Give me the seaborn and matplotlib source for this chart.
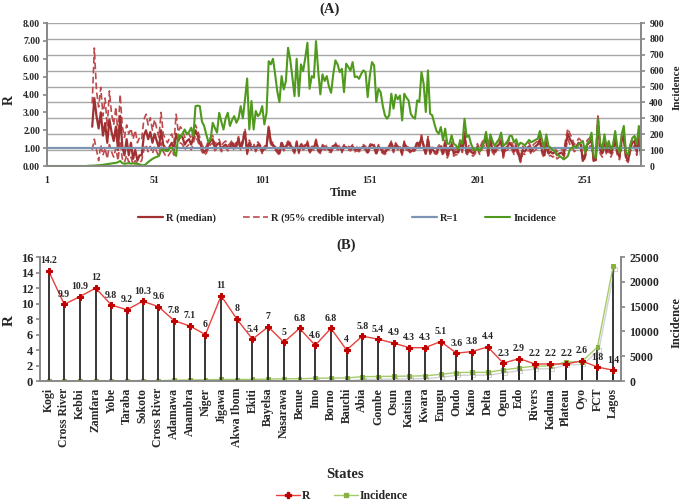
import numpy as np
import matplotlib
matplotlib.use("Agg")
import matplotlib.pyplot as plt
import matplotlib.patheffects as pe
from matplotlib.lines import Line2D
import seaborn as sns

# (A) daily incidence, day 1 .. 277
incidence = [
    0, 0, 0, 0, 0, 0, 0, 0, 0, 0,
    0, 0, 0, 0, 0, 0, 0, 0, 0, 1,
    2, 2, 3, 4, 5, 6, 8, 10, 12, 14,
    16, 18, 20, 24, 32, 18, 14, 16, 18, 15,
    17, 14, 16, 10, 6, 4, 12, 25, 35, 45,
    52, 58, 63, 100, 105, 96, 94, 112, 115, 90,
    63, 199, 178, 205, 230, 199, 215, 241, 189, 377,
    380, 377, 280, 252, 199, 150, 168, 272, 240, 210,
    335, 280, 230, 300, 335, 252, 290, 314, 272, 300,
    377, 300, 420, 551, 230, 409, 230, 346, 314, 330,
    377, 262, 335, 660, 640, 675, 577, 470, 402, 566,
    482, 535, 744, 671, 560, 440, 675, 440, 640, 597,
    680, 776, 486, 566, 556, 786, 600, 451, 577, 535,
    566, 500, 461, 577, 665, 640, 591, 612, 465, 644,
    623, 600, 654, 560, 564, 549, 580, 602, 591, 434,
    570, 654, 633, 403, 486, 465, 380, 319, 298, 319,
    455, 361, 449, 420, 444, 287, 455, 430, 413, 329,
    308, 298, 413, 403, 591, 518, 340, 602, 329, 319,
    266, 220, 203, 245, 161, 235, 140, 140, 193, 140,
    130, 109, 161, 140, 298, 182, 193, 140, 109, 98,
    115, 94, 115, 150, 215, 115, 199, 157, 126, 150,
    168, 210, 126, 140, 157, 189, 189, 147, 168, 126,
    147, 140, 130, 147, 164, 150, 157, 165, 172, 220,
    168, 115, 199, 126, 115, 100, 94, 73, 63, 55,
    42, 50, 63, 105, 115, 126, 115, 136, 147, 157,
    84, 140, 157, 210, 63, 52, 293, 147, 105, 199,
    115, 157, 105, 136, 220, 120, 84, 199, 252, 84,
    73, 130, 178, 189, 136, 252, 100,
]

# R estimates start on day 22
r_first_day = 22
r_median = [
    2.2, 3.8, 2.8, 2.1, 3.0, 1.7, 2.4, 1.3, 2.6, 1.9,
    1.4, 2.2, 0.9, 2.8, 1.1, 0.6, 1.5, 0.6, 1.3, 0.4,
    0.9, 0.3, 0.6, 0.6, 1.7, 2.0, 1.5, 1.9, 1.3, 1.8,
    1.4, 1.0, 2.0, 1.2, 1.0, 0.85, 1.1, 1.3, 0.9, 1.8,
    1.4, 1.7, 1.6, 1.2, 1.4, 1.5, 1.2, 1.6, 2.0, 1.7,
    1.3, 1.0, 0.75, 0.9, 1.2, 1.4, 1.5, 1.0, 1.2, 1.3,
    0.95, 1.1, 1.2, 1.0, 1.1, 1.3, 1.0, 1.2, 1.5, 1.0,
    1.4, 1.9, 0.75, 1.3, 1.0, 1.1, 0.9, 1.2, 1.1, 0.8,
    1.0, 1.1, 2.15, 1.3, 1.2, 1.0, 0.85, 0.7, 1.3, 0.95,
    1.1, 1.3, 1.2, 1.0, 0.8, 1.3, 0.8, 1.2, 1.0, 1.1,
    1.3, 0.8, 1.0, 1.0, 1.4, 0.9, 0.8, 1.1, 1.0, 1.05,
    0.9, 0.85, 1.1, 1.2, 1.0, 1.05, 0.85, 1.1, 1.05, 1.0,
    0.95, 1.1, 0.9, 0.95, 0.9, 1.0, 1.1, 1.0, 0.75, 1.1,
    1.2, 1.1, 0.7, 1.1, 0.95, 0.8, 0.75, 0.9, 1.05, 1.3,
    0.85, 1.2, 1.0, 1.05, 0.7, 1.3, 1.0, 0.95, 0.8, 0.9,
    0.95, 1.3, 1.1, 1.6, 1.1, 0.7, 1.5, 0.75, 0.95, 0.8,
    0.75, 1.0, 1.1, 0.7, 1.3, 0.6, 0.9, 1.2, 0.7, 0.8,
    0.75, 1.3, 0.9, 1.8, 0.7, 1.0, 0.8, 0.7, 0.85, 1.1,
    0.8, 1.1, 1.3, 1.6, 0.6, 1.5, 0.9, 0.75, 1.1, 1.2,
    1.4, 0.6, 1.0, 1.1, 1.3, 1.1, 0.8, 1.1, 0.7, 0.3,
    0.9, 0.8, 1.0, 1.1, 0.8, 1.0, 1.1, 1.2, 1.5, 0.9,
    0.6, 1.3, 0.7, 0.8, 0.7, 0.8, 0.6, 0.7, 0.75, 0.6,
    1.2, 1.8, 1.5, 1.3, 1.0, 1.1, 1.3, 1.2, 0.3, 0.6,
    1.2, 1.3, 1.5, 0.3, 0.35, 2.6, 0.9, 0.7, 1.4, 0.8,
    1.1, 0.7, 1.0, 1.5, 0.8, 0.5, 1.4, 1.7, 0.5, 0.3,
    1.0, 1.3, 1.4, 0.8, 1.7, 0.6,
]
r_lower = [
    0.9, 1.5, 0.9, 0.3, 1.2, 0.6, 1.0, 0.4, 1.2, 0.8,
    0.5, 1.0, 0.3, 1.4, 0.4, 0.2, 0.6, 0.2, 0.5, 0.1,
    0.3, 0.1, 0.2, 0.3, 0.9, 1.2, 0.8, 1.1, 0.7, 1.1,
    0.8, 0.5, 1.3, 0.8, 0.6, 0.5, 0.7, 0.9, 0.6, 1.1,
    1.0, 1.3, 1.2, 0.9, 1.1, 1.2, 0.9, 1.3, 1.7, 1.4,
    1.1, 0.8, 0.6, 0.7, 1.0, 1.2, 1.3, 0.85, 1.0, 1.1,
    0.8, 0.95, 1.05, 0.85, 0.95, 1.15, 0.85, 1.05, 1.35, 0.85,
    1.25, 1.7, 0.65, 1.15, 0.9, 0.95, 0.8, 1.1, 1.0, 0.7,
    0.9, 1.0, 1.95, 1.2, 1.1, 0.9, 0.75, 0.6, 1.2, 0.85,
    1.0, 1.2, 1.1, 0.9, 0.7, 1.2, 0.7, 1.1, 0.9, 1.0,
    1.2, 0.7, 0.9, 0.9, 1.3, 0.8, 0.7, 1.0, 0.9, 0.95,
    0.8, 0.75, 1.0, 1.1, 0.9, 0.95, 0.75, 1.0, 0.95, 0.9,
    0.85, 1.0, 0.8, 0.85, 0.8, 0.9, 1.0, 0.9, 0.65, 1.0,
    1.1, 1.0, 0.6, 1.0, 0.85, 0.7, 0.65, 0.8, 0.95, 1.2,
    0.75, 1.1, 0.9, 0.95, 0.6, 1.2, 0.9, 0.85, 0.7, 0.8,
    0.85, 1.2, 1.0, 1.45, 1.0, 0.6, 1.35, 0.65, 0.85, 0.7,
    0.65, 0.85, 0.95, 0.55, 1.15, 0.45, 0.75, 1.05, 0.55, 0.65,
    0.6, 1.15, 0.75, 1.6, 0.55, 0.85, 0.65, 0.55, 0.7, 0.95,
    0.65, 0.9, 1.1, 1.4, 0.45, 1.3, 0.75, 0.6, 0.9, 1.0,
    1.2, 0.45, 0.85, 0.9, 1.1, 0.9, 0.65, 0.9, 0.55, 0.2,
    0.7, 0.65, 0.8, 0.9, 0.65, 0.8, 0.9, 1.0, 1.3, 0.7,
    0.45, 1.1, 0.55, 0.6, 0.5, 0.6, 0.4, 0.5, 0.55, 0.4,
    0.9, 1.5, 1.2, 1.05, 0.8, 0.9, 1.05, 0.95, 0.2, 0.45,
    0.95, 1.05, 1.25, 0.2, 0.25, 2.2, 0.7, 0.5, 1.15, 0.6,
    0.9, 0.5, 0.8, 1.25, 0.6, 0.35, 1.15, 1.4, 0.35, 0.2,
    0.8, 1.05, 1.15, 0.6, 1.4, 0.45,
]
r_upper = [
    3.5, 6.6, 4.2, 3.3, 4.4, 2.8, 3.8, 2.2, 4.2, 2.9,
    2.3, 3.3, 1.7, 4.0, 2.2, 1.6, 2.3, 1.8, 2.1, 1.5,
    2.0, 1.3, 1.6, 1.5, 2.6, 2.9, 2.3, 2.7, 2.0, 2.6,
    2.1, 1.6, 3.0, 1.8, 1.5, 1.3, 1.6, 1.8, 1.3, 2.9,
    1.9, 2.2, 2.0, 1.6, 1.8, 1.8, 1.5, 1.9, 2.3, 2.0,
    1.6, 1.2, 0.95, 1.1, 1.4, 1.6, 1.7, 1.2, 1.4, 1.5,
    1.1, 1.3, 1.4, 1.15, 1.25, 1.45, 1.15, 1.35, 1.65, 1.15,
    1.55, 2.1, 0.9, 1.45, 1.15, 1.25, 1.0, 1.35, 1.2, 0.9,
    1.1, 1.2, 2.3, 1.4, 1.3, 1.1, 0.95, 0.8, 1.4, 1.05,
    1.2, 1.4, 1.3, 1.1, 0.9, 1.4, 0.9, 1.3, 1.1, 1.2,
    1.4, 0.9, 1.1, 1.1, 1.5, 1.0, 0.9, 1.2, 1.1, 1.15,
    1.0, 0.95, 1.2, 1.3, 1.1, 1.15, 0.95, 1.2, 1.15, 1.1,
    1.05, 1.2, 1.0, 1.05, 1.0, 1.1, 1.2, 1.1, 0.85, 1.2,
    1.3, 1.2, 0.8, 1.2, 1.05, 0.9, 0.85, 1.0, 1.15, 1.4,
    0.95, 1.3, 1.1, 1.15, 0.8, 1.4, 1.1, 1.05, 0.9, 1.0,
    1.05, 1.4, 1.2, 1.75, 1.2, 0.8, 1.65, 0.85, 1.05, 0.9,
    0.9, 1.15, 1.25, 0.85, 1.45, 0.75, 1.05, 1.35, 0.85, 0.95,
    0.9, 1.45, 1.05, 2.0, 0.85, 1.15, 0.95, 0.85, 1.0, 1.25,
    0.95, 1.3, 1.5, 1.8, 0.8, 1.7, 1.05, 0.9, 1.3, 1.4,
    1.6, 0.8, 1.2, 1.3, 1.5, 1.3, 0.95, 1.3, 0.85, 0.45,
    1.1, 1.0, 1.2, 1.3, 1.0, 1.2, 1.3, 1.4, 1.7, 1.1,
    0.8, 1.5, 0.9, 1.0, 0.9, 1.0, 0.8, 0.9, 0.95, 0.8,
    1.5, 2.1, 1.8, 1.55, 1.2, 1.3, 1.55, 1.45, 0.45, 0.8,
    1.45, 1.55, 1.75, 0.45, 0.5, 2.9, 1.1, 0.9, 1.65, 1.0,
    1.3, 0.9, 1.2, 1.75, 1.0, 0.7, 1.65, 1.95, 0.7, 0.45,
    1.2, 1.55, 1.65, 1.0, 1.95, 0.8,
]

# (B) per-state values
states = ["Kogi", "Cross River", "Kebbi", "Zamfara", "Yobe", "Taraba", "Sokoto",
          "Cross River", "Adamawa", "Anambra", "Niger", "Jigawa", "Akwa Ibom",
          "Ekiti", "Bayelsa", "Nasarawa", "Benue", "Imo", "Borno", "Bauchi",
          "Abia", "Gombe", "Osun", "Katsina", "Kwara", "Enugu", "Ondo", "Kano",
          "Delta", "Ogun", "Edo", "Rivers", "Kaduna", "Plateau", "Oyo", "FCT",
          "Lagos"]
state_r = [14.2, 9.9, 10.9, 12.0, 9.8, 9.2, 10.3, 9.6, 7.8, 7.1, 6.0, 11.0, 8.0,
           5.4, 7.0, 5.0, 6.8, 4.6, 6.8, 4.0, 5.8, 5.4, 4.9, 4.3, 4.3, 5.1, 3.6,
           3.8, 4.4, 2.3, 2.9, 2.2, 2.2, 2.2, 2.6, 1.8, 1.4]
state_incidence = [5, 15, 60, 75, 65, 50, 115, 30, 180, 200, 250, 320, 310, 330,
                   390, 450, 460, 550, 600, 620, 870, 920, 950, 1000, 1050, 1350,
                   1700, 1750, 1760, 2250, 2650, 3000, 3050, 3850, 3900, 6850,
                   23200]

sns.set_theme(style="white")
plt.rcParams["font.family"] = ["Liberation Serif", "DejaVu Serif"]
plt.rcParams["font.weight"] = "bold"

med_col = "#a03032"
ci_col = "#bd4b4e"
one_col = "#7d95b3"
inc_col = "#4f9a1c"
grid_col = "#a8a8a8"
axis_col = "#8a8a8a"

fig = plt.figure(figsize=(6.85, 5.04), dpi=100)

# ---------------- panel A ----------------
axA = fig.add_axes([0.0686, 0.6706, 0.8672, 0.2837])
axA2 = axA.twinx()

for v in range(0, 901, 100):
    axA.axhline(v * 8 / 900, color=grid_col, lw=1.0, zorder=0)

r_days_lo = np.arange(r_first_day, r_first_day + len(r_lower))
r_days_hi = np.arange(r_first_day, r_first_day + len(r_upper))
r_days = np.arange(r_first_day, r_first_day + len(r_median))
sns.lineplot(x=r_days_hi, y=r_upper, ax=axA, color=ci_col, lw=1.2,
             linestyle=(0, (4, 2)), legend=False)
sns.lineplot(x=r_days_lo, y=r_lower, ax=axA, color=ci_col, lw=1.2,
             linestyle=(0, (4, 2)), legend=False)
sns.lineplot(x=r_days, y=r_median, ax=axA, color=med_col, lw=1.6, legend=False)
axA.axhline(1, color=one_col, lw=1.6, zorder=3)

days = np.arange(1, len(incidence) + 1)
sns.lineplot(x=days, y=incidence, ax=axA2, color=inc_col, lw=1.5, legend=False)

axA.set_xlim(1, len(incidence))
axA.set_ylim(0, 8)
axA2.set_ylim(0, 900)
axA.set_xticks([1, 51, 101, 151, 201, 251])
axA.set_yticks(np.arange(0, 9, 1))
axA.set_yticklabels([f"{v:.2f}" for v in np.arange(0, 9, 1)])
axA2.set_yticks(np.arange(0, 901, 100))
for a in (axA, axA2):
    a.set_xlabel("")
    a.set_ylabel("")
    a.spines["top"].set_visible(False)
    for s in ("left", "right", "bottom"):
        a.spines[s].set_color(axis_col)
axA.tick_params(axis="both", labelsize=7, length=3, color=axis_col, pad=2)
axA.tick_params(axis="x", pad=4)
axA2.tick_params(axis="y", labelsize=7, length=3, color=axis_col, pad=3)
axA.grid(False)
axA2.grid(False)

fig.text(330 / 685, 1 - 9 / 504, "(A)", ha="center", va="center", fontsize=10.5)
fig.text(343 / 685, 1 - 193 / 504, "Time", ha="center", va="center", fontsize=9)
fig.text(9 / 685, 1 - 100 / 504, "R", ha="center", va="center", fontsize=10,
         rotation=90)
fig.text(677 / 685, 1 - 87 / 504, "Incidence", ha="center", va="center",
         fontsize=8, rotation=90)

handles_a = [
    Line2D([0], [0], color=med_col, lw=1.6, label="R (median)"),
    Line2D([0], [0], color=ci_col, lw=1.2, linestyle=(0, (4, 2)),
           label="R (95% credible interval)"),
    Line2D([0], [0], color=one_col, lw=1.6, label="R=1"),
    Line2D([0], [0], color=inc_col, lw=1.5, label="Incidence"),
]
fig.legend(handles=handles_a, loc="center", ncol=4, frameon=False,
           bbox_to_anchor=(347 / 685, 1 - 218 / 504), fontsize=7.5,
           handlelength=2.4, handletextpad=0.3, columnspacing=2.6)

# ---------------- panel B ----------------
axB = fig.add_axes([0.0584, 0.244, 0.8482, 0.246])
axB2 = axB.twinx()
axB.set_zorder(axB2.get_zorder() + 1)
axB.patch.set_visible(False)

pos = np.arange(len(states))
red_line = "#e8413c"
red_mark = "#c00000"
green_line = "#a6c96a"
green_mark = "#86b340"

axB2.vlines(pos, 0, state_incidence, color="#262626", lw=1.3, zorder=1)
sns.lineplot(x=pos, y=state_incidence, ax=axB2, color=green_line, lw=1.0,
             marker="s", markersize=2.8, markerfacecolor=green_mark,
             markeredgecolor=green_mark, legend=False, zorder=2,
             path_effects=[pe.SimpleLineShadow(offset=(1, -2), shadow_color="gray",
                                               alpha=0.35), pe.Normal()])
axB.vlines(pos, 0, state_r, color="#262626", lw=1.3, zorder=1)
sns.lineplot(x=pos, y=state_r, ax=axB, color=red_line, lw=1.0, marker="P",
             markersize=4.5, markerfacecolor=red_mark, markeredgecolor=red_mark,
             legend=False, zorder=3)
for i, v in zip(pos, state_r):
    axB.annotate(format(v, "g"), (i, v), xytext=(0, 4), textcoords="offset points",
                 ha="center", va="bottom", fontsize=7)

axB.set_xlim(-0.55, len(states) - 0.5)
axB.set_ylim(0, 16)
axB2.set_ylim(0, 25000)
axB.set_yticks(np.arange(0, 17, 2))
axB2.set_yticks(np.arange(0, 25001, 5000))
axB.set_xticks(pos)
axB.set_xticklabels(states, rotation=90, fontsize=8.5)
axB.set_xticks(np.arange(-0.5, len(states), 1), minor=True)
for a in (axB, axB2):
    a.set_xlabel("")
    a.set_ylabel("")
    a.spines["top"].set_visible(False)
    for s in ("left", "right", "bottom"):
        a.spines[s].set_color(axis_col)
    a.grid(False)
axB.tick_params(axis="x", which="major", length=0, pad=5)
axB.tick_params(axis="x", which="minor", length=3, color=axis_col, direction="out")
axB.tick_params(axis="y", labelsize=9, length=3, color=axis_col, pad=2)
axB2.tick_params(axis="y", labelsize=8.5, length=3, color=axis_col, pad=3)

fig.text(346 / 685, 1 - 245 / 504, "(B)", ha="center", va="center", fontsize=10.5)
fig.text(345 / 685, 1 - 474 / 504, "States", ha="center", va="center", fontsize=10.5)
fig.text(9 / 685, 1 - 320 / 504, "R", ha="center", va="center", fontsize=11,
         rotation=90)
fig.text(677 / 685, 1 - 322 / 504, "Incidence", ha="center", va="center",
         fontsize=9, rotation=90)

handles_b = [
    Line2D([0], [0], color=red_line, lw=1.0, marker="P", markersize=5,
           markerfacecolor=red_mark, markeredgecolor=red_mark, label="R"),
    Line2D([0], [0], color=green_line, lw=1.0, marker="s", markersize=3,
           markerfacecolor=green_mark, markeredgecolor=green_mark,
           label="Incidence"),
]
fig.legend(handles=handles_b, loc="center", ncol=2, frameon=False,
           bbox_to_anchor=(342 / 685, 1 - 496 / 504), fontsize=8.5,
           handlelength=2.0, handletextpad=0.2, columnspacing=2.0)

fig.savefig("out.png", dpi=100)
